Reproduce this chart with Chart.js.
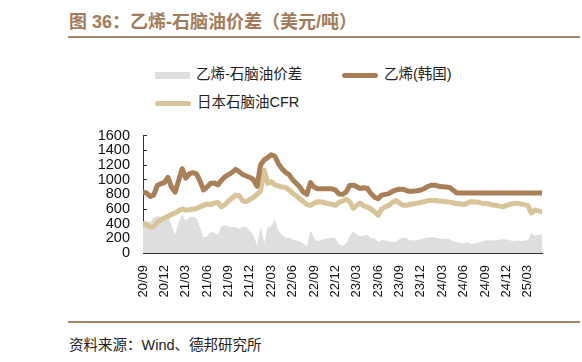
<!DOCTYPE html>
<html lang="zh">
<head>
    <meta charset="UTF-8">
    <title>乙烯-石脑油价差</title>
    <script src="https://cdn.jsdelivr.net/npm/chart.js"></script>
    <style>
        body {
            margin: 0;
            width: 582px;
            height: 362px;
            background: #fff;
            position: relative;
            overflow: hidden;
            font-family: "Liberation Sans", Arial, "Noto Sans CJK SC", sans-serif;
        }
        #title {
            position: absolute;
            left: 69px;
            top: 7px;
            font: bold 18px "Liberation Sans", "Noto Sans CJK SC", sans-serif;
            color: #a27b5b;
            white-space: nowrap;
        }
        .rule {
            position: absolute;
            left: 68px;
            width: 512px;
            background: #a98667;
        }
        #rule1 { top: 36px; height: 2px; }
        #rule2 { top: 321px; height: 2px; }
        #source {
            position: absolute;
            left: 69px;
            top: 333px;
            font-size: 14.5px;
            color: #222;
            white-space: nowrap;
            font-family: "Liberation Sans", "Noto Sans CJK SC", sans-serif;
        }
        .leg {
            position: absolute;
            font-size: 14.5px;
            color: #222;
            white-space: nowrap;
            font-family: "Liberation Sans", "Noto Sans CJK SC", sans-serif;
            line-height: 16px;
        }
        .leg i {
            display: inline-block;
            vertical-align: middle;
            margin-right: 6px;
        }
        #chartBox {
            position: absolute;
            left: 60px;
            top: 110px;
        }
    </style>
</head>
<body>
    <div id="title">图 36：乙烯-石脑油价差（美元/吨）</div>
    <div class="rule" id="rule1"></div>
    <div id="legend"></div>
    <div id="chartBox"><canvas id="chart" width="500" height="195"></canvas></div>
    <div class="rule" id="rule2"></div>
    <div id="source">资料来源：Wind、德邦研究所</div>

    <script>
        // half-month samples, 2020-09 .. 2025-05
        const dates = [
            '2020-09-01','2020-09-16','2020-10-01','2020-10-16','2020-11-01','2020-11-16','2020-12-01','2020-12-16',
            '2021-01-01','2021-01-16','2021-02-01','2021-02-16','2021-03-01','2021-03-16','2021-04-01','2021-04-16',
            '2021-05-01','2021-05-16','2021-06-01','2021-06-16','2021-07-01','2021-07-16','2021-08-01','2021-08-16',
            '2021-09-01','2021-09-16','2021-10-01','2021-10-16','2021-11-01','2021-11-16','2021-12-01','2021-12-16',
            '2022-01-01','2022-01-16','2022-02-01','2022-02-16','2022-03-01','2022-03-16','2022-04-01','2022-04-16',
            '2022-05-01','2022-05-16','2022-06-01','2022-06-16','2022-07-01','2022-07-16','2022-08-01','2022-08-16',
            '2022-09-01','2022-09-16','2022-10-01','2022-10-16','2022-11-01','2022-11-16','2022-12-01','2022-12-16',
            '2023-01-01','2023-01-16','2023-02-01','2023-02-16','2023-03-01','2023-03-16','2023-04-01','2023-04-16',
            '2023-05-01','2023-05-16','2023-06-01','2023-06-16','2023-07-01','2023-07-16','2023-08-01','2023-08-16',
            '2023-09-01','2023-09-16','2023-10-01','2023-10-16','2023-11-01','2023-11-16','2023-12-01','2023-12-16',
            '2024-01-01','2024-01-16','2024-02-01','2024-02-16','2024-03-01','2024-03-16','2024-04-01','2024-04-16',
            '2024-05-01','2024-05-16','2024-06-01','2024-06-16','2024-07-01','2024-07-16','2024-08-01','2024-08-16',
            '2024-09-01','2024-09-16','2024-10-01','2024-10-16','2024-11-01','2024-11-16','2024-12-01','2024-12-16',
            '2025-01-01','2025-01-16','2025-02-01','2025-02-16','2025-03-01','2025-03-16','2025-04-01','2025-04-16',
            '2025-05-01'
        ];

        // 乙烯(韩国)
        const ethylene = [
            830, 820, 770, 790, 920, 945, 960, 1030, 900, 830, 990, 1150, 1020, 1080, 1095, 1080,
            980, 860, 900, 950, 955, 930, 990, 1040, 1070, 1100, 1140, 1110, 1070, 1050, 1030, 1000,
            910, 1200, 1270, 1300, 1340, 1320, 1220, 1150, 1100, 1070, 1000, 950, 900, 830, 800, 960,
            900, 875, 875, 875, 875, 875, 860, 805, 800, 830, 920, 925, 905, 880, 890, 880,
            810, 760, 740, 790, 800, 810, 840, 860, 870, 870, 850, 840, 845, 850, 860, 880,
            910, 925, 925, 910, 905, 900, 895, 860, 822, 820, 820, 820, 820, 820, 820, 820,
            820, 820, 820, 820, 820, 820, 820, 820, 820, 820, 820, 820, 820, 820, 820, 820,
            820
        ];

        // 日本石脑油CFR
        const naphtha = [
            400, 385, 350, 360, 420, 455, 475, 500, 525, 545, 575, 600, 585, 590, 600, 605,
            630, 650, 670, 660, 680, 690, 630, 660, 710, 750, 790, 780, 710, 700, 730, 760,
            800, 845, 1130, 950, 975, 930, 915, 900, 895, 860, 815, 780, 740, 700, 660, 650,
            680, 700, 695, 685, 672, 665, 650, 690, 710, 735, 700, 610, 650, 680, 640, 625,
            600, 560, 515, 600, 630, 650, 690, 715, 680, 650, 650, 665, 672, 680, 690, 700,
            715, 717, 717, 710, 705, 700, 694, 685, 672, 675, 660, 680, 700, 695, 694, 680,
            675, 670, 655, 650, 640, 630, 650, 665, 672, 680, 670, 660, 650, 545, 585, 575,
            560
        ];

        // 乙烯-石脑油价差
        const spread = [
            430, 440, 420, 480, 500, 490, 485, 530, 375, 250, 420, 520, 440, 490, 495, 475,
            350, 210, 230, 290, 275, 250, 360, 380, 360, 350, 350, 330, 360, 350, 300, 240,
            110, 355, 140, 350, 365, 460, 305, 250, 205, 210, 185, 170, 160, 130, 90, 311,
            200, 160, 180, 190, 200, 210, 200, 120, 100, 130, 220, 300, 250, 230, 240, 250,
            200, 200, 150, 180, 170, 160, 150, 150, 190, 210, 200, 175, 170, 175, 190, 200,
            210, 215, 210, 200, 195, 195, 190, 165, 150, 140, 130, 145, 125, 130, 140, 155,
            170, 175, 170, 175, 180, 190, 185, 175, 160, 170, 165, 170, 175, 270, 240, 250,
            260
        ];

        const tickLabels = ['20/09','20/12','21/03','21/06','21/09','21/12','22/03','22/06','22/09','22/12',
                            '23/03','23/06','23/09','23/12','24/03','24/06','24/09','24/12','25/03'];
        const yTicks = [0, 200, 400, 600, 800, 1000, 1200, 1400, 1600];

        const seriesNames = ['乙烯-石脑油价差', '乙烯(韩国)', '日本石脑油CFR'];
        const colors = ['#dedede', '#a97f57', '#d7c498'];

        // months since 2020-09
        function toMonth(d) {
            const p = d.split('-').map(Number);
            return (p[0] - 2020) * 12 + (p[1] - 9) + (p[2] - 1) / 30;
        }
        const xs = dates.map(toMonth);
        const pts = arr => arr.map((v, i) => ({ x: xs[i], y: v }));

        // legend in html
        const legend = document.getElementById('legend');
        const legPos = [[155, 66], [342, 66], [155, 94]];
        seriesNames.forEach((name, i) => {
            const d = document.createElement('div');
            d.className = 'leg';
            d.style.left = legPos[i][0] + 'px';
            d.style.top = legPos[i][1] + 'px';
            const sw = document.createElement('i');
            if (i === 0) {
                sw.style.width = '35px'; sw.style.height = '7px'; sw.style.background = colors[0];
            } else {
                sw.style.width = '36px'; sw.style.height = '5px'; sw.style.borderRadius = '2.5px'; sw.style.background = colors[i];
            }
            d.appendChild(sw);
            d.appendChild(document.createTextNode(name));
            legend.appendChild(d);
        });

        const ctx = document.getElementById('chart').getContext('2d');
        new Chart(ctx, {
            type: 'line',
            data: {
                datasets: [
                    {
                        label: seriesNames[1],
                        data: pts(ethylene),
                        borderColor: colors[1],
                        borderWidth: 5,
                        borderJoinStyle: 'round',
                        borderCapStyle: 'round',
                        pointRadius: 0,
                        fill: false,
                        order: 1
                    },
                    {
                        label: seriesNames[2],
                        data: pts(naphtha),
                        borderColor: colors[2],
                        borderWidth: 5,
                        borderJoinStyle: 'round',
                        borderCapStyle: 'round',
                        pointRadius: 0,
                        fill: false,
                        order: 2
                    },
                    {
                        label: seriesNames[0],
                        data: pts(spread),
                        borderWidth: 0,
                        borderColor: colors[0],
                        backgroundColor: colors[0],
                        pointRadius: 0,
                        fill: 'origin',
                        order: 3
                    }
                ]
            },
            options: {
                responsive: false,
                animation: false,
                devicePixelRatio: 1,
                layout: { padding: { top: 25, right: 17, left: 0, bottom: 0 } },
                plugins: {
                    legend: { display: false },
                    tooltip: { enabled: false }
                },
                scales: {
                    x: {
                        type: 'linear',
                        min: 0,
                        max: 56,
                        afterFit: s => { s.height = 52; },
                        afterBuildTicks: s => { s.ticks = tickLabels.map((_, i) => ({ value: i * 3 })); },
                        grid: { drawOnChartArea: false, tickLength: -4, color: '#333' },
                        border: { color: '#333', width: 1 },
                        ticks: {
                            autoSkip: false,
                            minRotation: 90,
                            maxRotation: 90,
                            padding: 16,
                            color: '#111',
                            font: { family: 'Liberation Sans', size: 13 },
                            callback: v => tickLabels[Math.round(v / 3)]
                        }
                    },
                    y: {
                        min: 0,
                        max: 1600,
                        afterFit: s => { s.width = 83; },
                        afterBuildTicks: s => { s.ticks = yTicks.map(v => ({ value: v })); },
                        grid: { drawOnChartArea: false, tickLength: -4, color: '#333' },
                        border: { color: '#333', width: 1 },
                        ticks: {
                            autoSkip: false,
                            padding: 17,
                            color: '#111',
                            font: { family: 'Liberation Sans', size: 14.5 },
                            callback: v => String(v)
                        }
                    }
                }
            }
        });
    </script>
</body>
</html>
